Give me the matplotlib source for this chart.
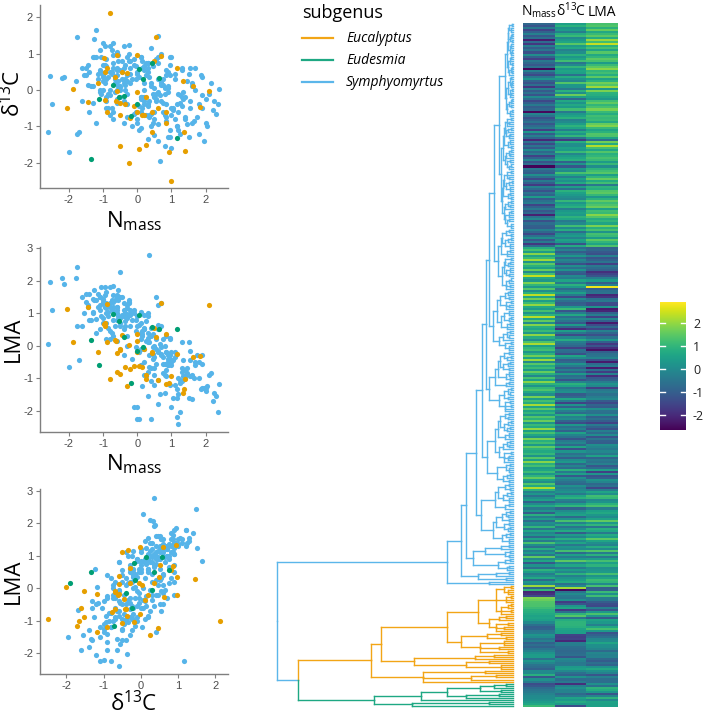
import matplotlib
matplotlib.use('Agg')
import matplotlib.pyplot as plt
from matplotlib.collections import LineCollection
from matplotlib.lines import Line2D
import numpy as np

plt.rcParams['font.family'] = ['Open Sans', 'DejaVu Sans']
plt.rcParams['axes.unicode_minus'] = False

# ---- trait values (standardised), in tree tip order, top to bottom ----
# Symphyomyrtus
nmass_sym = [
    -0.8, -1.2, -0.4, -1.5, -0.9, -0.2, -1.1, -0.6, -2.2, -0.7,
    -1.75, -0.3, -1.0, -0.5, -1.3, 0.1, -0.9, -1.6, -0.4, -0.75,
    -1.1, -0.6, -2.55, -0.2, -0.95, -1.4, -0.45, 0.2, -0.85, -1.25,
    -0.65, -1.8, -0.3, -1.05, -0.55, -1.2, 0.0, -0.7, -1.45, -0.95,
    -0.35, -1.0, -0.8, -2.5, -0.15, -0.6, -1.3, -0.9, -0.5, -1.15,
    -0.7, -0.4, -1.6, 0.3, -1.0, -0.25, -0.85, -2.0, -0.55, -1.35,
    -0.5, -1.1, 0.05, -0.75, -0.3, -1.55, -0.9, -0.1, -1.2, -0.65,
    -2.6, -0.45, -0.8, -1.0, 0.15, -0.6, -1.4, -0.35, -0.95, -1.7,
    -0.2, -0.7, -1.25, -0.5, -0.85, 0.4, -1.05, -0.6, -0.3, -1.5,
    -0.9, -0.4, -1.15, -0.75, -2.15, -0.55, -0.05, -1.3, -0.65, -0.95,
    -1.0, -0.25, -0.8, -1.45, -0.6, 0.1, -1.1, -0.35, -1.75, -0.7,
    0.8, 1.3, 0.4, 1.9, 0.6, 1.1, 2.1, 0.2, 1.5, 0.9,
    0.5, 1.6, 0.0, 1.2, 2.4, 0.7, 0.3, 1.8, 1.0, 0.35,
    1.4, 0.1, 0.9, 2.35, 0.6, 1.7, 0.45, 1.15, 2.0, 0.75,
    0.4, 1.25, 0.2, 0.95, 2.3, 0.55, 1.55, 0.05, 1.85, 0.85,
    0.65, 1.1, 0.3, 1.95, 0.8, 0.15, 1.35, 2.2, 0.5, 1.0,
    1.2, 0.25, 0.9, 1.7, 0.6, 2.05, 0.0, 1.45, 0.75, 1.15,
    0.35, 1.6, 0.85, -0.1, 1.3, 0.5, 1.9, 0.95, 0.2, 1.05,
    1.35, 0.7, 0.1, 1.75, 0.45, 1.25, 0.8, 2.15, 0.6, 1.5,
    0.55, 1.0, 0.25, 1.4, 0.9, 1.65, 0.3, 1.1, 0.75, 2.0,
    0.45, 1.3, 0.65, 0.15, 1.8, 0.85, 1.2, 0.35, 1.55, 0.95,
    0.7, 1.05, 0.2, 1.45, 0.5, 1.9, 0.85, 1.25, 0.4, 0.6,
    1.15, 0.3, 0.95, 1.6, 0.55, 0.1, 1.4, 0.75, 2.25, 0.9,
    -0.2, 0.3, -0.6, 0.1, 0.5, -0.9, 0.0, 0.7, -0.4, 0.2,
    -1.0, 0.85, -0.3, 0.4, -0.7, 0.15, -0.1, 1.0, -0.5, 0.6,
    -0.15, 0.25, -0.8, 0.55, -0.35, 1.3, 0.05, -0.55, 0.8, -0.25,
    0.35, -0.45, 1.55, -0.05, 0.6, -1.1, 0.2, -0.6, 0.95, 0.45,
    -0.3, 0.1, 0.7, -0.75, 0.3, -0.05,
]
d13c_sym = [
    0.5, 0.9, 0.2, 0.4, -0.3, 0.8, 1.1, 0.0, 0.33, 0.6,
    1.47, 0.4, 0.7, -0.2, 0.1, 0.9, 0.3, 0.6, 1.2, -0.5,
    0.0, 1.0, 0.38, 0.6, 0.5, -0.6, 0.8, 0.2, -0.1, 1.4,
    0.3, 0.25, -0.4, 0.9, 0.1, 1.65, 0.5, -0.8, 0.7, 0.2,
    0.7, 0.4, 1.2, -0.4, 0.3, 0.55, 0.9, -0.2, 0.0, 0.45,
    0.95, 0.6, -0.3, 0.75, 0.25, 1.0, -0.5, -1.7, 0.8, 0.1,
    0.07, 0.5, 0.35, 1.1, -0.1, 0.4, 0.65, 0.85, -0.9, 0.2,
    -1.17, 0.3, 0.0, 1.3, 0.6, -0.25, 0.5, 0.15, 0.7, -1.15,
    0.45, -0.6, 0.9, 0.55, 0.35, 0.1, -0.1, 1.05, 0.25, 0.6,
    0.85, -0.3, 0.3, 0.5, 0.35, 0.95, 0.65, -0.35, -0.05, 1.2,
    0.0, 0.8, -0.7, 0.15, 0.4, -0.2, 0.55, 0.3, -1.22, 0.75,
    -0.7, -0.2, -1.0, -0.5, 0.3, -0.8, -0.1, -0.4, -1.3, 0.1,
    -0.6, 0.2, -0.9, -1.1, 0.02, -0.3, 0.6, -0.4, 0.9, 0.35,
    -0.75, -0.2, 0.5, -0.38, -1.4, 0.0, -0.6, -1.0, -0.9, 0.3,
    1.15, -1.2, -0.3, 0.7, -0.65, -0.1, -0.5, -1.1, 0.4, -0.85,
    -1.95, 0.45, -0.45, -1.4, -0.1, 0.8, -0.25, -0.55, -0.8, -1.6,
    -0.6, -0.7, -1.3, 0.6, -0.05, -1.0, -0.8, 0.25, -0.35, -1.0,
    -0.3, -0.9, 0.4, -0.65, -0.45, -1.25, -0.15, 0.9, 0.55, -0.5,
    -0.05, 0.15, -1.05, -0.75, 0.65, -0.35, -1.55, 0.2, -0.95, 0.45,
    -0.25, -0.7, 0.75, -0.2, 0.05, -0.85, -1.35, 0.3, -0.6, -0.25,
    -0.9, 0.55, -0.15, -0.5, -1.2, -0.4, -0.1, -0.75, 0.6, -1.3,
    0.25, -0.55, -0.2, -0.95, 0.05, 0.35, -0.75, -0.15, -0.65, 0.9,
    -0.4, 0.5, -1.1, 0.1, -0.3, -0.6, -0.8, 0.15, -0.3, -0.05,
    0.2, -0.4, 0.6, 0.9, -0.2, -0.5, 0.45, 1.0, -0.9, 0.0,
    0.35, 0.55, -0.75, 0.2, 1.3, -0.2, 0.7, -0.5, 0.1, 0.75,
    -1.0, 0.4, -0.15, 0.85, 0.0, 0.6, -0.45, 0.25, 0.05, 1.25,
    -0.7, 0.5, -0.3, 0.3, 1.5, -0.05, 0.65, -0.35, 0.4, -0.1,
    0.9, -0.25, 0.2, 0.45, 0.75, -0.6,
]
lma_sym = [
    1.3, 1.4, 0.9, 1.6, 0.7, 1.1, 1.5, 0.8, 2.08, 1.2,
    2.42, 0.9, 1.3, 0.6, 1.45, 0.7, 1.0, 1.5, 1.3, 0.4,
    1.1, 1.5, 1.95, 1.0, 1.2, 0.8, 1.5, 0.5, 0.9, 1.7,
    1.4, 2.1, 0.3, 1.8, 0.9, 0.83, 0.6, 0.3, 1.2, 1.55,
    1.0, 1.3, 1.8, 1.1, 0.8, 1.2, 1.05, 1.15, 0.7, 1.6,
    1.85, 1.1, 0.6, 0.9, 1.4, 1.35, 0.55, -0.67, 1.7, 0.8,
    2.27, 1.25, 0.65, 1.4, 0.85, 1.0, 1.3, 1.1, 0.4, 1.05,
    0.05, 0.95, 1.2, 1.45, 0.45, 1.0, 1.6, 0.75, 1.2, -0.45,
    0.95, 0.8, 1.4, 1.5, 1.05, 0.3, 0.9, 1.55, 1.15, 1.35,
    1.65, 0.5, 1.2, 1.1, 1.9, 1.4, 0.8, 1.0, 0.6, 1.8,
    0.85, 1.3, 0.2, 1.25, 1.1, 0.4, 1.5, 1.0, 0.6, 1.35,
    -0.9, -0.8, -1.1, -1.3, -0.2, -1.2, -0.9, -0.5, -1.6, -0.4,
    -0.7, -0.9, -1.9, -1.5, -1.18, -0.3, 0.4, -1.0, -0.2, 2.78,
    -1.0, -0.6, -0.5, -2.04, -1.8, -0.6, -0.4, -1.35, -1.4, 0.2,
    -2.25, -2.05, -0.9, -0.3, -1.55, -0.1, -0.95, -2.25, -1.35, -0.75,
    -1.5, -0.2, -0.8, -1.3, -0.55, 0.3, -0.95, -1.72, -1.2, -1.9,
    -2.4, -0.95, -0.6, -0.5, -0.15, -1.25, -2.25, -0.7, -0.35, -2.2,
    -0.65, -1.65, -0.2, -1.9, -1.1, -0.9, -0.3, 0.2, -0.1, -1.6,
    -0.45, -0.25, -0.6, -0.3, -0.05, -1.05, -1.45, -0.85, -1.05, 0.1,
    -0.55, -0.6, 0.15, -0.95, -0.6, -1.0, -1.55, -0.35, -0.85, -1.3,
    -0.25, -0.7, 0.05, -1.25, -0.5, -0.95, -1.0, 0.1, -0.15, -0.4,
    -0.05, -0.45, 0.55, -0.85, -0.35, -0.55, -0.2, -1.15, -0.7, 0.5,
    -1.6, 0.25, -1.2, -0.95, 0.2, -0.1, -0.75, -0.55, -1.45, -0.3,
    0.6, 0.1, 1.2, 1.05, 0.0, 0.2, 0.9, 1.3, -0.3, 0.5,
    0.7, 0.3, 0.0, 0.55, 1.55, 0.35, 1.0, -0.5, 0.85, 0.65,
    -0.4, 0.75, 0.45, 1.5, 0.6, 0.1, -0.2, 0.8, 0.0, 1.4,
    -0.3, 0.9, -0.45, 0.45, 1.25, 0.5, 0.95, 0.15, 0.25, 0.35,
    1.25, 0.2, 0.6, 1.15, 1.0, -0.05,
]

# Eucalyptus
nmass_euc = [
    2.1, -0.8, 1.0, -2.05, -1.88, -1.43, 1.83, 1.63, 1.39, 1.36,
    1.34, 1.17, 0.92, 0.83, 0.7, 0.56, 0.61, 0.49, -0.02, -0.6,
    -0.97, -0.88, -0.44, -0.31, 0.25, 0.06, -0.5, -0.23, -0.93, -0.63,
    -0.89, -0.49, -0.21, 0.2, 0.42, 0.43, -0.58, 0.27, -0.1, -0.5,
    -0.66, -0.93, 0.0, -0.02, 0.85, -1.15, 0.15, -0.35,
]
d13c_euc = [
    -0.02, 2.13, -2.5, -0.5, 0.03, -0.34, -0.46, 0.11, -1.67, -1.17,
    0.25, 0.61, -1.72, -0.6, 0.94, 1.45, -0.5, 0.8, 0.96, 0.97,
    0.87, 0.6, 0.49, 0.47, -1.52, -1.62, -1.53, -2.02, -0.28, -0.3,
    -0.6, -0.69, -0.77, -0.7, -0.62, -1.17, -0.02, -0.18, -0.43, -0.36,
    0.35, 0.5, -0.05, -0.6, -0.9, 0.2, -0.7, -0.4,
]
lma_euc = [
    1.26, -1.02, -0.95, 1.12, 0.11, 1.18, -0.32, -0.36, -1.02, -1.34,
    -1.45, -0.26, -1.15, 0.36, 1.32, 0.28, -1.06, 0.55, 0.35, -0.22,
    0.67, 1.28, 0.34, -1.23, -0.9, -0.62, -0.1, 0.03, 0.62, 0.15,
    0.12, -0.13, -0.73, -0.1, -0.22, -0.19, -0.8, -1.04, -0.63, -0.87,
    0.17, 0.7, 0.15, -0.18, -1.18, -0.2, -0.65, -0.65,
]

# Eudesmia
nmass_eud = [-1.34, -1.13, -0.7, -0.52, -0.39, -0.17, 0.0, 0.06, 0.16, 0.42, 0.64, 1.15]
d13c_eud = [-1.9, -0.24, 0.14, -0.18, -0.16, -0.72, -0.39, 0.57, 0.31, 0.75, 0.34, -1.33]
lma_eud = [0.17, -0.6, 0.97, 0.77, 0.26, -1.16, -0.15, 0.95, -0.05, 0.56, 0.5, 0.5]

subgenera = ['Eucalyptus', 'Eudesmia', 'Symphyomyrtus']
point_col = {'Symphyomyrtus': '#56B4E9', 'Eucalyptus': '#E69F00', 'Eudesmia': '#009E73'}
tree_col = {'Symphyomyrtus': '#5BB6EA', 'Eucalyptus': '#F2A516', 'Eudesmia': '#1EA883'}

nmass = nmass_sym + nmass_euc + nmass_eud
d13c = d13c_sym + d13c_euc + d13c_eud
lma = lma_sym + lma_euc + lma_eud
subgenus = (['Symphyomyrtus'] * len(nmass_sym) + ['Eucalyptus'] * len(nmass_euc)
            + ['Eudesmia'] * len(nmass_eud))

# ---- tree (node value = horizontal position of the split, root 0, tips 100) ----
g1 = "((x,x)99.5,(x,x,x)99)98.5"
g2 = "(((x,x)99.6,x)99.2,(x,x)99.4)98.8"
g3 = "((x,x,x)99.3,((x,x)99.7,x)99.1)98.6"
g4 = "((x,x)99.2,x,(x,x)99.5)98.9"
g5 = "(((x,x)99.4,(x,x)99.6)99,x)98.4"
g6 = "((x,x)99.1,((x,x,x)99.5,x)99.2)98.7"
g7 = "((x,x)99.6,(x,x)99.3,x)98.9"
g8 = "(((x,x)99.5,x)99,(x,x)99.2)98.2"
g9 = "((x,x)99.4,x,x)98.8"
T1 = ("((((" + g1 + "," + g2 + ")98," + g3 + ")97.8,(" + g4 + "," + g5 + ")98)97.5,(("
      + g6 + "," + g7 + ")97.9,(" + g8 + "," + g9 + ")97.6)97.2)96.8")

h1 = "((x,x)99,(x,x)98.5,x)97.5"
h2 = "(((x,x)99.2,x)98,((x,x)98.8,x)98.3)97"
h3 = "((x,x,x)98.6,(x,x)99)97.8"
h4 = "(((x,x)99.3,(x,x)98.9)98.1,x)97.2"
h5 = "((x,x)98.7,((x,x)99.1,x)98.4)97.6"
h6 = "((x,x)99,x,(x,x)98.2)97.4"
h7 = "(((x,x)99.4,x)98.5,(x,x,x)98.8)97"
h8 = "((x,x)98.9,(x,x)99.2)98"
h9 = "(((x,x)99,(x,x)98.6)97.9,x)96.8"
h10 = "((x,x)99.3,x,x)98.1"
h11 = "((x,x)98.4,(x,x,x)99)97.3"
T2 = ("((((" + h1 + "," + h2 + ")96.5," + h3 + ")96.2,(" + h4 + "," + h5 + ")96.4)95.8,((("
      + h6 + "," + h7 + ")96.3," + h8 + ")95.9,(" + h9 + ",(" + h10 + "," + h11 + ")96.6)96)95.5)95")

k1 = "((x,x)98.5,(x,x)99)97"
k2 = "(((x,x)99.2,x)98,(x,x,x)98.7)96.5"
k3 = "((x,x)98.8,x,x)97.5"
k4 = "((x,x)99,((x,x)98.6,x)97.8)96.8"
k5 = "((x,x,x)98.9,(x,x)98.3)97.2"
k6 = "(((x,x)99.1,x)98.2,(x,x)98.8,x)96.9"
T3 = "(((" + k1 + "," + k2 + ")95.5," + k3 + ")95,((" + k4 + "," + k5 + ")96," + k6 + ")95.2)93.5"

l1 = "(((x,x)98.7,x)97.9,(x,x)98.4)96.8"
l2 = "((x,x)99,(x,x)98.1,x)97.1"
l3 = "((x,x,x)98.5,((x,x)99.2,x)98.3)96.2"
l4 = "((x,x)98.6,x,x)97.4"
l5 = "(((x,x)98.9,(x,x)98.2)97.5,x)95.9"
l6 = "((x,x)99.1,(x,x,x)98.4)96.6"
T4 = "(((" + l1 + "," + l2 + ")94.5,(" + l3 + "," + l4 + ")95)93.2,(" + l5 + "," + l6 + ")94)91.5"

m1 = "((x,x)98.2,((x,x)99,x)97.6)96.3"
m2 = "(((x,x)98.8,x)97.7,(x,x)98.5)95.8"
m3 = "((x,x,x)98.1,(x,x)98.9)96.9"
m4 = "((x,x)98.4,x)97"
m5 = "(((x,x)99.1,(x,x)98.6)97.8,(x,x)98)96"
m6 = "((x,x)98.7,(x,x)99,x,x)96.7"
T5 = "((((" + m1 + "," + m2 + ")94.3," + m3 + ")93.5," + m4 + ")92.4,(" + m5 + "," + m6 + ")94.2)90"

n1 = "((x,x)98.5,(x,x)98)96.4"
n2 = "(((x,x)99,x)97.9,((x,x)98.6,x)97.5)96"
n3 = "((x,x,x)98.3,x)96.8"
n4 = "(((x,x)98.8,(x,x)98.2)97.3,x)95.6"
n5 = "((x,x)99.2,((x,x)98.4,x)97.7,x)96.2"
n6 = "((x,x)98.9,(x,x,x)98.1)96.9"
n7 = "(((x,x)98.6,x)97.4,(x,x)98.3)95.9"
T6 = ("((((" + n1 + "," + n2 + ")94.6," + n3 + ")93.8,(" + n4 + "," + n5 + ")94.1)92.3,("
      + n6 + "," + n7 + ")93.4)89")

o1 = "((x,x)98.1,(x,x)98.7)96.5"
o2 = "(((x,x)99,x)97.6,(x,x,x)98.4)95.7"
o3 = "((x,x)98.3,x)96.6"
o4 = "(((x,x)98.8,(x,x)98)97.2,(x,x)98.5)95.4"
o5 = "((x,x)98.2,((x,x)98.9,x)97.8)96.1"
o6 = "(((x,x)98.6,x)97.1,(x,x,x)98.3)95.2"
T7 = "(((" + o1 + "," + o2 + ")93.6," + o3 + ")92.2,((" + o4 + "," + o5 + ")93," + o6 + ")91.5)86.5"

T8 = "((((x,x)98.4,x)95,((x,x)98.7,(x,x)98.1)96.5)88,(((x,x)98.9,x)96.8,((x,x)98.2,x)97.3)93.5)83"
T9a = "(((x,x)98.5,x)93,(x,x)97)85"
T9b = "(x,x)90"

SYM = ("(((((((((" + T1 + "," + T2 + ")94," + T3 + ")92," + T4 + ")90," + T5 + ")88.5,"
       + T6 + ")87," + T7 + ")84.5," + T8 + ")80," + T9a + ")78," + T9b + ")72")

A111 = "(((x,x)99,(x,x,x)98)96,((x,x)99,x,x)97,(((x,x)99,x)98,(x,x)99,x)95)93"
A112 = "(((x,x)97,x)94,((x,x)98,(x,x)96,x)93)90"
A12 = "(((x,x)95,(x,x)97)89,((x,x,x)96,(x,x)94,(x,x)98)86)78"
A2 = "(((x,x)92,x)84,((x,x)90,(x,x,x)95)80)58"
B = "((x,x)88,((x,x)93,x)82,x)62"
EUC = "((((" + A111 + "," + A112 + ")85," + A12 + ")72," + A2 + ")44," + B + ")40"
EUD = "((((((x,x)97,x)92,(x,x)95)86,((x,x)94,x)80)72,x)61,((x,x)90,x)57)41"

NEWICK = "(" + SYM + ",(" + EUC + "," + EUD + ")9)0"


def parse_newick(s):
    pos = 0

    def node():
        nonlocal pos
        if s[pos] == '(':
            pos += 1
            kids = [node()]
            while s[pos] == ',':
                pos += 1
                kids.append(node())
            pos += 1
            start = pos
            while pos < len(s) and (s[pos].isdigit() or s[pos] == '.'):
                pos += 1
            return {'kids': kids, 'x': float(s[start:pos])}
        pos += 1
        return {'kids': [], 'x': 100.0}

    return node()


def layout(nd, counter):
    if not nd['kids']:
        nd['y'] = counter[0]
        nd['grp'] = subgenus[counter[0]]
        counter[0] += 1
        return
    for k in nd['kids']:
        layout(k, counter)
    nd['y'] = (nd['kids'][0]['y'] + nd['kids'][-1]['y']) / 2
    grps = set(k['grp'] for k in nd['kids'])
    nd['grp'] = grps.pop() if len(grps) == 1 else 'Symphyomyrtus'


def collect(nd, segs, cols):
    for k in nd['kids']:
        c = tree_col[k['grp']]
        segs.append([(nd['x'], nd['y']), (nd['x'], k['y'])])
        segs.append([(nd['x'], k['y']), (k['x'], k['y'])])
        cols += [c, c]
        collect(k, segs, cols)


tree = parse_newick(NEWICK)
counter = [0]
layout(tree, counter)
n_tips = counter[0]
segs, cols = [], []
collect(tree, segs, cols)

W, H = 709, 716
fig = plt.figure(figsize=(W / 100, H / 100), dpi=100)


def px_axes(l, t, r, b):
    return fig.add_axes([l / W, 1 - b / H, (r - l) / W, (b - t) / H])


def scatter_panel(rect, x, y, xlim, ylim, yticks):
    ax = px_axes(*rect)
    x = np.array(x)
    y = np.array(y)
    grp = np.array(subgenus)
    for g in ['Symphyomyrtus', 'Eucalyptus', 'Eudesmia']:
        m = grp == g
        ax.scatter(x[m], y[m], s=14, color=point_col[g], linewidths=0, zorder=3)
    ax.set_xlim(*xlim)
    ax.set_ylim(*ylim)
    ax.set_xticks([-2, -1, 0, 1, 2])
    ax.set_yticks(yticks)
    for sp in ['top', 'right']:
        ax.spines[sp].set_visible(False)
    for sp in ['left', 'bottom']:
        ax.spines[sp].set_color('#7f7f7f')
        ax.spines[sp].set_linewidth(1.0)
    ax.tick_params(direction='out', length=3, width=0.8, color='#7f7f7f',
                   labelsize=8, labelcolor='#4d4d4d', pad=2,
                   labelfontfamily='Liberation Sans')
    return ax


NM = r'$\mathregular{N_{mass}}$'
DC = r'$\mathregular{δ^{13}C}$'

scatter_panel((40, 5, 228, 188), nmass, d13c, (-2.84, 2.65), (-2.70, 2.34), [-2, -1, 0, 1, 2])
scatter_panel((40, 247, 228, 432), nmass, lma, (-2.84, 2.65), (-2.66, 3.04), [-2, -1, 0, 1, 2, 3])
scatter_panel((40, 489, 228, 674), d13c, lma, (-2.71, 2.34), (-2.64, 3.05), [-2, -1, 0, 1, 2, 3])

fig.text(134 / W, 1 - 227 / H, NM, fontsize=16, ha='center', va='baseline')
fig.text(134 / W, 1 - 470 / H, NM, fontsize=16, ha='center', va='baseline')
fig.text(134 / W, 1 - 711 / H, DC, fontsize=16, ha='center', va='baseline')
fig.text(13 / W, 1 - 93 / H, DC, fontsize=16, rotation=90, ha='center', va='center')
fig.text(13 / W, 1 - 339 / H, 'LMA', fontsize=16, rotation=90, ha='center', va='center')
fig.text(13 / W, 1 - 581 / H, 'LMA', fontsize=16, rotation=90, ha='center', va='center')

# tree
ax_t = px_axes(277, 23, 513, 707)
ax_t.add_collection(LineCollection(segs, colors=cols, linewidths=1.0, clip_on=False,
                                   capstyle='projecting'))
ax_t.set_xlim(0, 100)
ax_t.set_ylim(n_tips - 0.5, -0.5)
ax_t.axis('off')

# heatmap
VMIN, VMAX = -2.65, 2.91
ax_h = px_axes(523, 23, 618, 707)
vals = np.column_stack([nmass, d13c, lma])
im = ax_h.imshow(vals, cmap='viridis', vmin=VMIN, vmax=VMAX, aspect='auto',
                 interpolation='nearest', extent=(-0.5, 2.5, n_tips - 0.5, -0.5))
ax_h.axis('off')
for cx, lab in zip([539, 571, 602], [NM, DC, 'LMA']):
    fig.text(cx / W, 1 - 16 / H, lab, fontsize=10, ha='center', va='baseline')

# colour bar
ax_cb = px_axes(660, 302, 686, 430)
cb = fig.colorbar(im, cax=ax_cb)
cb.outline.set_visible(False)
cb.set_ticks([-2, -1, 0, 1, 2])
cb.ax.tick_params(length=0, labelsize=9, labelcolor='#222222', pad=5)
for t in [-2, -1, 0, 1, 2]:
    cb.ax.axhline(t, xmin=0, xmax=0.2, color='white', lw=1)
    cb.ax.axhline(t, xmin=0.8, xmax=1, color='white', lw=1)

# legend
fig.text(302 / W, 1 - 18 / H, 'subgenus', fontsize=13, ha='left', va='baseline')
for yy, g in zip([38, 60, 82], subgenera):
    fig.add_artist(Line2D([302 / W, 333 / W], [1 - yy / H] * 2, color=tree_col[g], lw=1.6,
                          transform=fig.transFigure))
    fig.text(346 / W, 1 - yy / H, g, fontsize=10, style='italic', ha='left', va='center')

fig.savefig('out.png', dpi=100)
